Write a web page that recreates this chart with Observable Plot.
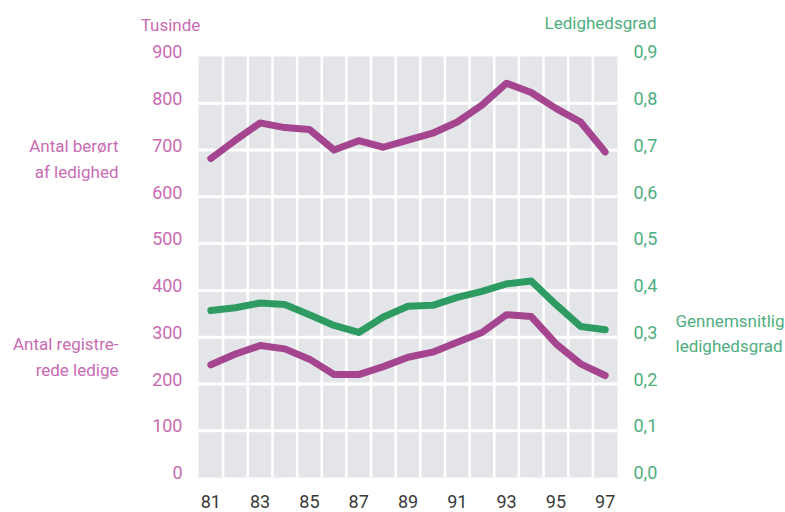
<!DOCTYPE html>
<html>
<head>
<meta charset="utf-8">
<script src="https://cdn.jsdelivr.net/npm/d3@7"></script>
<script src="https://cdn.jsdelivr.net/npm/@observablehq/plot@0.6"></script>
<style>
  html, body { margin: 0; padding: 0; background: #fff; }
</style>
</head>
<body>
<div id="chart"></div>
<script>
const years = [81, 82, 83, 84, 85, 86, 87, 88, 89, 90, 91, 92, 93, 94, 95, 96, 97];
const affected = [682, 721, 758, 748, 744, 700, 720, 706, 721, 736, 760, 796, 843, 823, 789, 760, 696];
const registered = [241, 264, 282, 275, 253, 220, 220, 237, 257, 268, 289, 310, 348, 344, 286, 243, 218];
const rate = [0.357, 0.363, 0.373, 0.370, 0.348, 0.325, 0.310, 0.343, 0.366, 0.368, 0.385, 0.398, 0.414, 0.420, 0.370, 0.323, 0.316];
const xTicks = [81, 83, 85, 87, 89, 91, 93, 95, 97];
const leftTicks = [0, 100, 200, 300, 400, 500, 600, 700, 800, 900];
const rightTicks = [0.0, 0.1, 0.2, 0.3, 0.4, 0.5, 0.6, 0.7, 0.8, 0.9];

const magenta = "#a5448f";
const magentaText = "#c96bb3";
const green = "#2e9c62";
const greenText = "#4fae80";
const font = "Roboto, 'Liberation Sans', sans-serif";

const rows = years.map((y, i) => ({ year: y, affected: affected[i], registered: registered[i], rate: rate[i] }));
const vGrid = years.slice(0, -1).map(y => y + 0.5);
const hGrid = leftTicks.filter(v => v > 0 && v < 900);

const chart = Plot.plot({
  width: 785,
  height: 512,
  marginLeft: 198,
  marginRight: 168,
  marginTop: 56,
  marginBottom: 35,
  x: { domain: [80.5, 97.5] },
  y: { domain: [0, 900] },
  style: { fontFamily: font, background: "#fff", overflow: "visible" },
  marks: [
    Plot.frame({ fill: "#e3e5e8", stroke: null }),
    Plot.ruleX(vGrid, { stroke: "#fff", strokeWidth: 2.5 }),
    Plot.ruleY(hGrid, { stroke: "#fff", strokeWidth: 3 }),
    Plot.line(rows, { x: "year", y: "affected", stroke: magenta, strokeWidth: 7, strokeLinejoin: "round", strokeLinecap: "round" }),
    Plot.line(rows, { x: "year", y: "registered", stroke: magenta, strokeWidth: 7, strokeLinejoin: "round", strokeLinecap: "round" }),
    Plot.line(rows, { x: "year", y: d => d.rate * 1000, stroke: green, strokeWidth: 7, strokeLinejoin: "round", strokeLinecap: "round" }),
    Plot.axisX({ ticks: xTicks, tickSize: 0, tickPadding: 18, fontSize: 18, fill: "#3a3a3a", tickFormat: d => String(d), label: null }),
    Plot.axisY({ anchor: "left", ticks: leftTicks, tickSize: 0, tickPadding: 16, fontSize: 18, fill: magentaText, dy: -4, label: null }),
    Plot.axisY({ anchor: "right", ticks: leftTicks, tickSize: 0, tickPadding: 16, fontSize: 18, fill: greenText, dy: -4, label: null,
      tickFormat: (d, i) => rightTicks[i].toFixed(1).replace(".", ",") }),
    Plot.text(["Tusinde"], { x: 80.5, y: 900, dx: -28, dy: -31, text: d => d, fontSize: 17, fill: magentaText, textAnchor: "middle" }),
    Plot.text(["Ledighedsgrad"], { x: 97.5, y: 900, dx: -17, dy: -33, text: d => d, fontSize: 17, fill: greenText, textAnchor: "middle" }),
    Plot.text(["Antal berørt\naf ledighed"], { x: 80.5, y: 686, dx: -80, text: d => d, fontSize: 17, lineHeight: 1.5, fill: magentaText, textAnchor: "end" }),
    Plot.text(["Antal registre-\nrede ledige"], { x: 80.5, y: 262, dx: -80, text: d => d, fontSize: 17, lineHeight: 1.5, fill: magentaText, textAnchor: "end" }),
    Plot.text(["Gennemsnitlig\nledighedsgrad"], { x: 97.5, y: 312, dx: 58, text: d => d, fontSize: 17, lineHeight: 1.5, fill: greenText, textAnchor: "start" })
  ]
});
document.getElementById("chart").appendChild(chart);
</script>
</body>
</html>
